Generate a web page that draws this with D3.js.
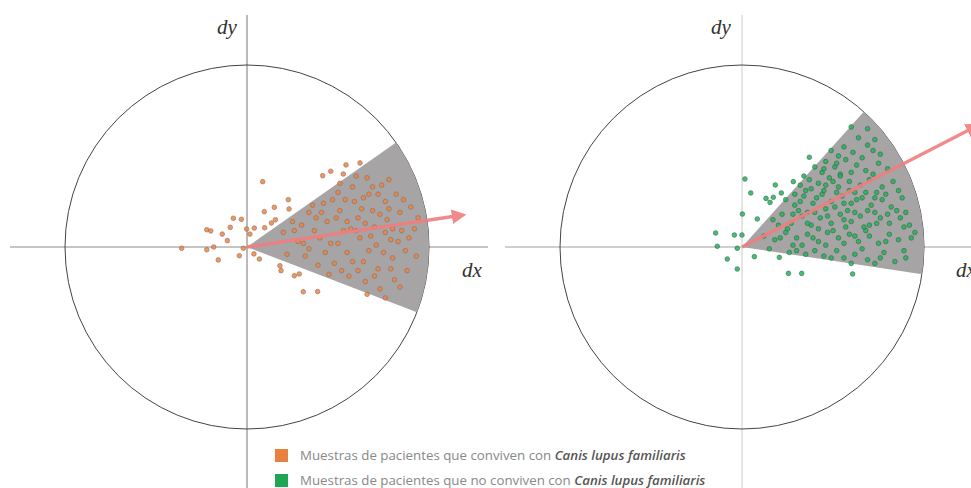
<!DOCTYPE html>
<html>
<head>
<meta charset="utf-8">
<script src="https://cdn.jsdelivr.net/npm/d3@7"></script>
<style>
  html, body { margin: 0; padding: 0; background: #fff; }
  svg { display: block; }
</style>
</head>
<body>
<svg id="chart" width="971" height="488"></svg>
<script>
// all values in circle units: radius of the circle = 10
const sectorLeft = [-21, 35];     // degrees, from dx axis
const sectorRight = [-8.6, 48];
const arrowLeft = [11.5, 1.7];
const arrowRight = [12.6, 6.5];

// samples, patients living with a dog
const dogPoints = [
  [0.86, 3.59], [2.27, 2.60], [1.50, 2.18], [0.95, 1.94], [2.31, 2.09],
  [-0.75, 1.58], [-0.31, 1.52], [1.56, 1.50], [1.34, 1.32], [-0.92, 1.08],
  [-2.21, 0.95], [-1.99, 0.88], [-1.36, 0.71], [-0.02, 0.99], [0.40, 1.04],
  [0.97, 1.06], [0.16, 0.71], [-1.08, 0.35], [-1.83, 0.0], [-2.21, -0.15],
  [-3.59, -0.07], [-0.2, -0.07], [-0.42, -0.48], [-1.58, -0.71], [0.38, -0.38],
  [0.68, -0.66], [1.81, -1.03], [1.87, -1.30], [2.60, -1.58], [2.87, -1.48],
  [3.09, -2.46], [3.88, -2.45], [4.16, 3.92], [4.60, 4.16], [5.44, 4.51],
  [6.21, 4.62], [5.29, 4.01],
  [2.0, 0.8], [2.5, 1.4], [2.8, 0.3], [3.2, -0.5], [3.4, 1.9], [3.7, 0.9],
  [3.9, -1.0], [4.2, 2.4], [4.4, 1.4], [4.6, 0.2], [4.8, -0.9], [5.0, 3.0],
  [5.1, 2.0], [5.3, 0.9], [5.5, -0.3], [5.6, -1.6], [5.8, 3.3], [5.9, 2.5],
  [6.1, 1.6], [6.2, 0.5], [6.4, -0.8], [6.5, -1.9], [6.6, 3.8], [6.7, 2.9],
  [6.9, 2.0], [7.0, 1.1], [7.1, 0.1], [7.2, -1.2], [7.3, -2.3], [7.4, 3.4],
  [7.6, 2.5], [7.7, 1.5], [7.9, 0.4], [8.0, -0.6], [8.1, -1.8], [8.2, 2.9],
  [8.4, 1.9], [8.5, 0.9], [8.7, -0.2], [8.8, -1.3], [9.0, 2.2], [9.2, 1.0],
  [9.3, -0.5], [3.0, 1.2], [4.0, 0.5], [4.9, 1.6], [5.7, 1.0], [6.3, 2.1],
  [6.8, 0.6], [7.5, -0.3], [8.3, 0.3], [5.2, -1.3], [6.0, 3.9], [7.8, 3.7],
  [3.6, 2.3], [4.5, -1.5], [6.6, -2.6], [7.6, -2.8], [2.2, -0.4], [3.4, -0.1],
  [4.1, 1.9], [4.7, 2.6], [5.4, 2.6], [5.5, 1.4], [6.0, 0.9], [6.4, 2.7],
  [6.5, 1.3], [7.2, 2.9], [7.3, 1.8], [7.8, 2.1], [8.0, 1.0], [8.6, 2.6],
  [6.9, 3.3], [5.1, 3.5], [5.8, -0.8], [6.7, -0.2], [7.6, 0.8], [8.9, 0.5],
  [4.3, -0.3], [3.8, 1.6], [6.1, -1.3], [7.0, -1.6], [8.4, -2.2], [9.4, 1.6],
  [5.0, 0.2], [7.9, -1.2], [3.1, 0.2], [2.6, 0.9]
];

// samples, patients not living with a dog
const noDogPoints = [
  [0.16, 3.74], [0.48, 2.97], [1.83, 3.41], [2.16, 2.97], [1.32, 2.67],
  [1.54, 2.45], [1.72, 2.73], [0.02, 1.81], [0.84, 1.54], [-1.45, 0.77],
  [-0.42, 0.66], [0.0, 0.66], [-1.36, 0.04], [-0.26, -0.07], [-0.81, -0.66],
  [0.68, -0.53], [2.05, -0.57], [-0.26, -1.21], [2.55, -1.45], [3.28, -1.45],
  [6.08, -1.48], [3.70, 4.93], [2.82, 3.59],
  [6.0, 6.6], [6.9, 6.5], [6.4, 6.0], [7.3, 5.9],
  [4.9, 5.3], [5.6, 5.5], [6.1, 5.2], [6.9, 5.6], [7.6, 5.1], [5.3, 5.0], [7.2, 5.3],
  [4.0, 4.4], [4.6, 4.7], [5.1, 4.4], [5.7, 4.8], [6.3, 4.5], [6.8, 4.2],
  [7.5, 4.6], [8.0, 4.3], [4.4, 4.1], [5.4, 4.0], [6.0, 4.1], [7.2, 4.0],
  [3.2, 3.4], [3.7, 3.7], [4.2, 3.5], [4.8, 3.8], [5.3, 3.3], [5.9, 3.6],
  [6.5, 3.4], [7.0, 3.7], [7.7, 3.3], [8.3, 3.6], [3.5, 3.1], [4.5, 3.1],
  [6.2, 3.0], [7.4, 3.0], [8.6, 3.1], [5.0, 3.6],
  [2.4, 2.6], [2.9, 2.3], [3.4, 2.8], [3.9, 2.4], [4.4, 2.9], [4.9, 2.5],
  [5.5, 2.8], [6.0, 2.4], [6.6, 2.7], [7.1, 2.3], [7.7, 2.6], [8.2, 2.2],
  [8.8, 2.7], [3.1, 2.0], [4.6, 2.1], [5.8, 2.0], [6.9, 2.0], [8.5, 2.0],
  [1.7, 1.5], [2.2, 1.8], [2.7, 1.3], [3.3, 1.7], [3.8, 1.2], [4.3, 1.6],
  [4.9, 1.3], [5.4, 1.8], [6.0, 1.4], [6.5, 1.7], [7.0, 1.2], [7.6, 1.6],
  [8.1, 1.3], [8.7, 1.6], [9.2, 1.2], [2.5, 1.0], [4.0, 1.9], [5.7, 1.1],
  [7.3, 1.9], [9.0, 1.9],
  [1.2, 0.6], [1.8, 0.4], [2.4, 0.8], [3.0, 0.5], [3.6, 0.7], [4.2, 0.3],
  [4.7, 0.8], [5.3, 0.5], [5.9, 0.7], [6.4, 0.3], [7.0, 0.6], [7.5, 0.2],
  [8.1, 0.7], [8.6, 0.4], [9.3, 0.5], [3.3, 0.1], [6.8, 0.9],
  [1.5, -0.1], [2.6, -0.3], [3.5, -0.4], [4.5, -0.5], [5.2, -0.2], [5.6, -0.6],
  [6.2, -0.4], [6.9, -0.7], [7.8, -0.3], [8.4, -0.8], [9.0, -0.6], [4.0, -0.2],
  [7.3, -0.9],
  [2.0, 1.2], [2.8, 1.8], [3.2, 2.5], [3.6, 1.9], [4.1, 2.7], [4.6, 3.4],
  [5.2, 3.0], [5.1, 2.2], [5.6, 2.4], [4.7, 1.7], [4.2, 1.0], [3.6, 1.3],
  [5.0, 0.9], [5.6, 1.5], [6.2, 1.9], [6.3, 2.6], [5.9, 3.1], [6.8, 3.0],
  [7.3, 2.7], [7.9, 2.9], [8.0, 1.8], [7.4, 1.3], [6.7, 1.1], [6.2, 0.6],
  [5.6, 0.2], [4.6, 0.1], [3.9, 0.5], [2.8, 0.1], [2.1, 0.5], [7.9, 0.3],
  [8.9, 1.1], [9.5, 0.8], [4.5, 4.3], [5.2, 4.6], [6.6, 4.9], [3.8, 3.2],
  [2.9, 2.9], [6.6, -0.1], [7.6, -0.6], [8.9, -0.2], [3.0, -0.2], [4.9, -0.6],
  [6.0, -0.9], [5.4, 3.9], [3.4, 3.9]
];

const legendLabels = [
  ["Muestras de pacientes que conviven con ", "Canis lupus familiaris"],
  ["Muestras de pacientes que no conviven con ", "Canis lupus familiaris"]
];
const legendColors = ["#e8803e", "#1ea653"];

const svg = d3.select("#chart");
const R = 182;

const defs = svg.append("defs");
defs.append("marker")
  .attr("id", "head")
  .attr("viewBox", "0 0 10 10")
  .attr("refX", 3)
  .attr("refY", 5)
  .attr("markerWidth", 4.2)
  .attr("markerHeight", 4.2)
  .attr("orient", "auto")
  .append("path")
  .attr("d", "M0,0 L10,5 L0,10 z")
  .attr("fill", "#f07f7f");

function panel({ cx, cy, sector, points, color, stroke, arrow, hLine, vLine, axisColor, vColor, dyX, dxX }) {
  const x = d3.scaleLinear().domain([-10, 10]).range([cx - R, cx + R]);
  const y = d3.scaleLinear().domain([-10, 10]).range([cy + R, cy - R]);
  const g = svg.append("g");

  // axes
  g.append("line")
    .attr("x1", hLine[0]).attr("x2", hLine[1])
    .attr("y1", y(0)).attr("y2", y(0))
    .attr("stroke", axisColor).attr("stroke-width", 1.2);
  g.append("line")
    .attr("x1", x(0)).attr("x2", x(0))
    .attr("y1", vLine[0]).attr("y2", vLine[1])
    .attr("stroke", vColor).attr("stroke-width", 1.2);

  g.append("circle")
    .attr("cx", x(0)).attr("cy", y(0))
    .attr("r", x(10) - x(0))
    .attr("fill", "none")
    .attr("stroke", "#444").attr("stroke-width", 1);

  // sector, angles measured counter clockwise from dx
  const arc = d3.arc()
    .innerRadius(0)
    .outerRadius(x(10) - x(0))
    .startAngle((90 - sector[1]) * Math.PI / 180)
    .endAngle((90 - sector[0]) * Math.PI / 180);
  g.append("path")
    .attr("transform", `translate(${x(0)},${y(0)})`)
    .attr("d", arc())
    .attr("fill", "#a6a4a4");

  g.selectAll(".pt")
    .data(points)
    .enter()
    .append("circle")
    .attr("class", "pt")
    .attr("cx", d => x(d[0]))
    .attr("cy", d => y(d[1]))
    .attr("r", 2.3)
    .attr("fill", color)
    .attr("stroke", stroke)
    .attr("stroke-width", 0.8)
    .attr("opacity", 0.85);

  g.append("line")
    .attr("x1", x(0)).attr("y1", y(0))
    .attr("x2", x(arrow[0])).attr("y2", y(arrow[1]))
    .attr("stroke", "#f07f7f")
    .attr("stroke-width", 3.5)
    .attr("opacity", 0.9)
    .attr("marker-end", "url(#head)");

  g.append("text")
    .attr("x", dyX).attr("y", 34)
    .attr("font-family", "Liberation Serif, serif")
    .attr("font-style", "italic")
    .attr("font-size", 21)
    .attr("fill", "#333")
    .text("dy");
  g.append("text")
    .attr("x", dxX).attr("y", 277)
    .attr("font-family", "Liberation Serif, serif")
    .attr("font-style", "italic")
    .attr("font-size", 21)
    .attr("fill", "#333")
    .text("dx");
}

panel({
  cx: 247, cy: 247, sector: sectorLeft, points: dogPoints,
  color: "#ef8540", stroke: "#9a6c58", arrow: arrowLeft,
  hLine: [10, 488], vLine: [15, 488], axisColor: "#8c8c8c", vColor: "#8c8c8c",
  dyX: 217, dxX: 462
});
panel({
  cx: 742, cy: 247, sector: sectorRight, points: noDogPoints,
  color: "#22b55c", stroke: "#2e6e48", arrow: arrowRight,
  hLine: [505, 971], vLine: [15, 488], axisColor: "#a0a0a0", vColor: "#d4d4d4",
  dyX: 711, dxX: 956
});

// legend
const legend = svg.append("g");
legendLabels.forEach((lab, i) => {
  const yy = 449 + i * 25;
  legend.append("rect")
    .attr("x", 275).attr("y", yy)
    .attr("width", 13).attr("height", 13)
    .attr("fill", legendColors[i]);
  const t = legend.append("text")
    .attr("x", 300).attr("y", yy + 11)
    .attr("font-family", "Open Sans, sans-serif")
    .attr("font-size", 13.3)
    .attr("fill", "#888");
  t.append("tspan").text(lab[0]);
  t.append("tspan")
    .attr("font-style", "italic")
    .attr("font-weight", 600)
    .attr("fill", "#555")
    .text(lab[1]);
});
</script>
</body>
</html>
